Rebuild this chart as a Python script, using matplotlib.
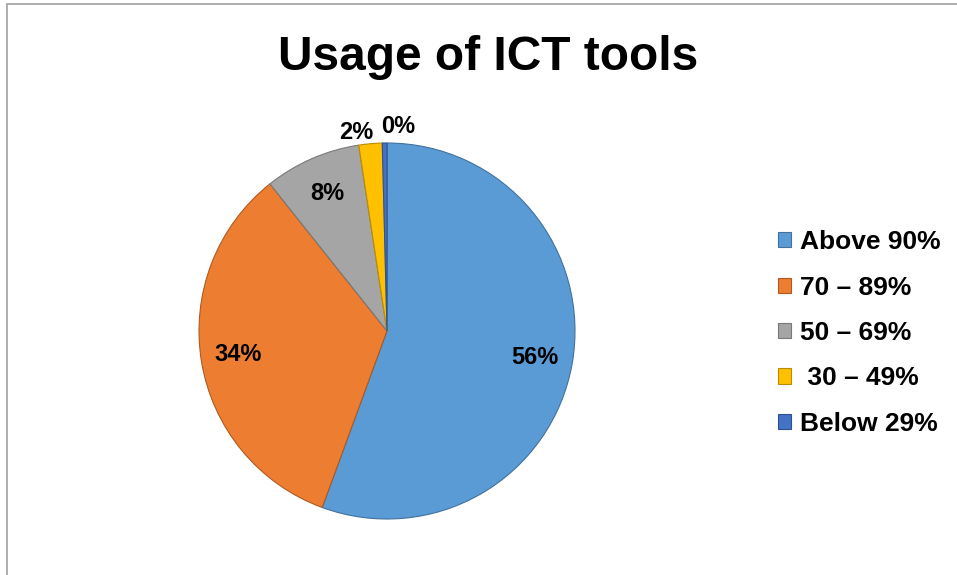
import matplotlib.pyplot as plt
import numpy as np
from matplotlib.patches import Rectangle

plt.rcParams['font.family'] = ['Liberation Sans', 'DejaVu Sans']
plt.rcParams['font.weight'] = 'bold'

# data
labels = ['Above 90%', '70 – 89%', '50 – 69%', ' 30 – 49%', 'Below 29%']
values = [55.6, 33.7, 8.3, 2.0, 0.4]
colors = ['#5B9BD5', '#ED7D31', '#A5A5A5', '#FFC000', '#4472C4']
edges = ['#41719C', '#AE5A21', '#787878', '#BC8C00', '#2F528F']

W, H = 957, 575
fig = plt.figure(figsize=(W / 100, H / 100), dpi=100)

# chart border (top and left visible)
fig.patches.append(Rectangle((7 / W, -0.1), 1.2, 1 - 4 / H + 0.1, transform=fig.transFigure,
                             fill=False, edgecolor='#A0A0A0', linewidth=1.2))

cx, cy, r = 387, 331, 188
ax = fig.add_axes([(cx - r) / W, (H - cy - r) / H, 2 * r / W, 2 * r / H])

wedges, texts, autotexts = ax.pie(values, colors=colors, startangle=90, counterclock=False,
                                  autopct='%.0f%%', pctdistance=0.8,
                                  wedgeprops=dict(linewidth=0.8),
                                  textprops=dict(fontsize=17, fontweight='bold', color='black'))
for w, ec in zip(wedges, edges):
    w.set_edgecolor(ec)
ax.set_xlim(-1, 1)
ax.set_ylim(-1, 1)
ax.set_aspect('equal')

# small slices: labels pushed outside
for i, (ha, dx, dy) in zip([3, 4], [('right', 0.02, 0.0), ('left', -0.02, 0.03)]):
    w = wedges[i]
    ang = np.deg2rad((w.theta1 + w.theta2) / 2)
    autotexts[i].set_position((np.cos(ang) * 1.06 + dx, np.sin(ang) * 1.06 + dy))
    autotexts[i].set_ha(ha)

fig.text(488 / W, 1 - 70 / H, 'Usage of ICT tools', ha='center', va='baseline',
         fontsize=34.5, fontweight='bold')

fig.legend(wedges, labels, loc='center left', bbox_to_anchor=(778 / W, 1 - 333 / H),
           frameon=False, borderpad=0, borderaxespad=0,
           handlelength=0.5, handleheight=0.5, handletextpad=0.35, labelspacing=0.81,
           prop=dict(weight='bold', size=19))

fig.savefig('out.png', dpi=100)
